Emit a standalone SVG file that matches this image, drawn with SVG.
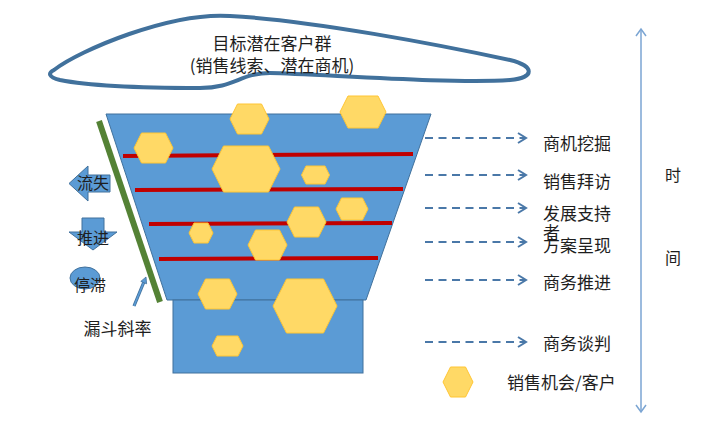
<svg xmlns="http://www.w3.org/2000/svg" width="720" height="429" viewBox="0 0 720 429">
<defs>
<style>
.t{font-family:"Noto Sans CJK SC","Noto Sans",sans-serif;fill:#1e1e1e}
.hex{fill:#FFD966;stroke:#FFC533;stroke-width:1}
.red{stroke:#C00000;stroke-width:4}
.dash{stroke:#4A78A8;stroke-width:2;stroke-dasharray:8 5.5;fill:none}
.blue{fill:#5B9BD5;stroke:#41719C;stroke-width:1}
</style>
<marker id="ah" markerUnits="userSpaceOnUse" markerWidth="12" markerHeight="12" refX="10" refY="6" orient="auto">
<path d="M2,1 L10,6 L2,11" fill="none" stroke="#4A78A8" stroke-width="2"/>
</marker>
<marker id="tah" markerUnits="userSpaceOnUse" markerWidth="12" markerHeight="12" refX="10" refY="6" orient="auto-start-reverse">
<path d="M3,1 L10,6 L3,11" fill="none" stroke="#7BA5D3" stroke-width="1.5"/>
</marker>
</defs>
<rect width="720" height="429" fill="#ffffff"/>

<g id="cloud">
<path d="M54,70 C80,50 170,12 230,16 C310,20 440,45 510,60 C535,66 535,78 510,80 C450,84 320,74 270,73 C240,73 235,88 200,88 C150,88 90,86 60,80 C48,77 48,73 54,70 Z" fill="#ffffff" stroke="#41719C" stroke-width="4"/>
<text class="t" x="272" y="49.5" font-size="17" text-anchor="middle">目标潜在客户群</text>
<text class="t" x="272" y="71.5" font-size="17" text-anchor="middle">(销售线索、潜在商机)</text>
</g>

<g id="funnel">
<polygon class="blue" points="106,114 431,114 366,300 167,300"/>
<rect class="blue" x="173" y="300" width="190" height="73"/>
<line class="red" x1="123" y1="156" x2="413" y2="154"/>
<line class="red" x1="135" y1="190" x2="403" y2="189"/>
<line class="red" x1="149" y1="224" x2="392" y2="223"/>
<line class="red" x1="159" y1="259" x2="378" y2="258"/>
</g>

<g id="opportunities">
<polygon class="hex" points="230,119 237.5,104 261.5,104 269,119 261.5,134 237.5,134"/>
<polygon class="hex" points="340,112 348,96 378,96 386,112 378,128 348,128"/>
<polygon class="hex" points="134,148 141.5,133 165.5,133 173,148 165.5,163 141.5,163"/>
<polygon class="hex" points="212,169 223.5,146 268.5,146 280,169 268.5,192 223.5,192"/>
<polygon class="hex" points="301.5,175 306,166 325,166 329.5,175 325,184 306,184"/>
<polygon class="hex" points="336,209 341.5,198 362.5,198 368,209 362.5,220 341.5,220"/>
<polygon class="hex" points="287,222 294.5,207 318.5,207 326,222 318.5,237 294.5,237"/>
<polygon class="hex" points="189,233 194,223 208,223 213,233 208,243 194,243"/>
<polygon class="hex" points="248,245 255.5,230 279.5,230 287,245 279.5,260 255.5,260"/>
<polygon class="hex" points="198,294 205.5,279 229.5,279 237,294 229.5,309 205.5,309"/>
<polygon class="hex" points="273,306 286.5,279 323.5,279 337,306 323.5,333 286.5,333"/>
<polygon class="hex" points="212,346 217,336 238,336 243,346 238,356 217,356"/>
</g>

<g id="slope">
<line x1="99" y1="121" x2="160" y2="302" stroke="#548235" stroke-width="6"/>
<line x1="134" y1="306" x2="143.7" y2="282.5" stroke="#41719C" stroke-width="3.2"/>
<line x1="134" y1="306" x2="143.7" y2="282.5" stroke="#5B9BD5" stroke-width="1.6"/>
<polygon points="146,277 146.6,283.8 140.8,281.4" fill="#5B9BD5" stroke="#41719C" stroke-width="0.8"/>
<text class="t" x="117.5" y="334.5" font-size="17" text-anchor="middle">漏斗斜率</text>
</g>

<g id="loss">
<polygon class="blue" points="69,183.5 88,166 88,175 110,175 110,192 88,192 88,201"/>
<text class="t" x="93" y="189" font-size="16" text-anchor="middle">流失</text>
</g>
<g id="advance">
<polygon class="blue" points="82,218 104,218 104,232 117,232 93,250 69,232 82,232"/>
<text class="t" x="93" y="244" font-size="16" text-anchor="middle">推进</text>
</g>
<g id="stall">
<ellipse class="blue" cx="85" cy="278" rx="15" ry="11"/>
<text class="t" x="90" y="291" font-size="16" text-anchor="middle">停滞</text>
</g>

<g id="connectors">
<line class="dash" x1="425" y1="138" x2="526" y2="138" marker-end="url(#ah)"/>
<line class="dash" x1="425" y1="175" x2="526" y2="175" marker-end="url(#ah)"/>
<line class="dash" x1="425" y1="208" x2="526" y2="208" marker-end="url(#ah)"/>
<line class="dash" x1="425" y1="242" x2="526" y2="242" marker-end="url(#ah)"/>
<line class="dash" x1="425" y1="280" x2="526" y2="280" marker-end="url(#ah)"/>
<line class="dash" x1="425" y1="342" x2="526" y2="342" marker-end="url(#ah)"/>
<line x1="641" y1="29" x2="641" y2="412" stroke="#7BA5D3" stroke-width="1.5" marker-start="url(#tah)" marker-end="url(#tah)"/>
</g>

<g id="stages">
<text class="t" x="543" y="149.5" font-size="17">商机挖掘</text>
<text class="t" x="543" y="187.5" font-size="17">销售拜访</text>
<text class="t" x="543" y="219.5" font-size="17">发展支持</text>
<text class="t" x="543" y="238.5" font-size="17">者</text>
<text class="t" x="543" y="251.5" font-size="17">方案呈现</text>
<text class="t" x="543" y="288.5" font-size="17">商务推进</text>
<text class="t" x="543" y="349.5" font-size="17">商务谈判</text>
</g>

<g id="legend">
<polygon class="hex" points="443,382 450.5,367 465.5,367 473,382 465.5,397 450.5,397"/>
<text class="t" x="507" y="388.5" font-size="17">销售机会/客户</text>
</g>

<g id="time">
<text class="t" x="665" y="181" font-size="16">时</text>
<text class="t" x="665" y="264" font-size="16">间</text>
</g>
</svg>
